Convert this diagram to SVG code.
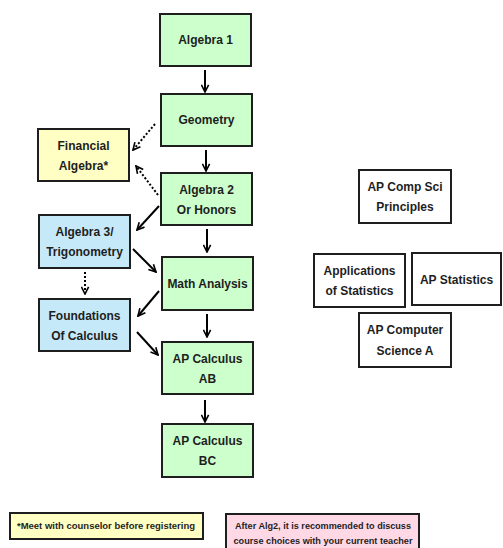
<svg xmlns="http://www.w3.org/2000/svg" width="503" height="548" viewBox="0 0 503 548">
<defs>
<style>
.box{stroke:#1e1e1e;stroke-width:2}
.g{fill:#ccffcc}.y{fill:#ffffc4}.b{fill:#c6e9fa}.w{fill:#ffffff}.p{fill:#ffd8e6}
text{font-family:"Liberation Sans",Arial,sans-serif;font-weight:bold;font-size:12px;fill:#1e1e1e;text-anchor:middle}
.sm{font-size:8.6px}
.c{stroke:#000;stroke-width:2;fill:none}
.d{stroke-dasharray:2 2}
</style>
<marker id="ah" viewBox="0 0 10 10" refX="9" refY="5" markerWidth="9" markerHeight="9" markerUnits="userSpaceOnUse" orient="auto">
<path d="M1,1 L9,5 L1,9" fill="none" stroke="#000" stroke-width="1.8"/>
</marker>
</defs>
<g id="connectors">
<line class="c" x1="205" y1="70" x2="205" y2="92" marker-end="url(#ah)"/>
<line class="c" x1="206" y1="150" x2="206" y2="171" marker-end="url(#ah)"/>
<line class="c d" x1="155" y1="124" x2="133" y2="150" marker-end="url(#ah)"/>
<line class="c d" x1="158" y1="195" x2="136" y2="166" marker-end="url(#ah)"/>
<line class="c" x1="159" y1="206" x2="137" y2="230" marker-end="url(#ah)"/>
<line class="c" x1="207" y1="229" x2="207" y2="252" marker-end="url(#ah)"/>
<line class="c" x1="133" y1="249" x2="156" y2="272" marker-end="url(#ah)"/>
<line class="c d" x1="85" y1="272" x2="85" y2="294" marker-end="url(#ah)"/>
<line class="c" x1="159" y1="291" x2="138" y2="316" marker-end="url(#ah)"/>
<line class="c" x1="137" y1="332" x2="158" y2="355" marker-end="url(#ah)"/>
<line class="c" x1="207" y1="314" x2="207" y2="337" marker-end="url(#ah)"/>
<line class="c" x1="205" y1="400" x2="205" y2="422" marker-end="url(#ah)"/>
</g>
<g id="algebra1"><rect class="box g" x="160" y="14" width="91" height="52"/><text x="205.5" y="44">Algebra 1</text></g>
<g id="geometry"><rect class="box g" x="161" y="94" width="91" height="52"/><text x="206.5" y="124">Geometry</text></g>
<g id="financial"><rect class="box y" x="38" y="129" width="91" height="52"/><text x="83.5" y="150">Financial</text><text x="83.5" y="170">Algebra*</text></g>
<g id="algebra2"><rect class="box g" x="161" y="173" width="91" height="52"/><text x="206.5" y="194">Algebra 2</text><text x="206.5" y="214">Or Honors</text></g>
<g id="algebra3"><rect class="box b" x="39" y="215" width="91" height="53"/><text x="84.5" y="236">Algebra 3/</text><text x="84.5" y="256">Trigonometry</text></g>
<g id="mathanalysis"><rect class="box g" x="162" y="257" width="91" height="53"/><text x="207.5" y="288">Math Analysis</text></g>
<g id="foundations"><rect class="box b" x="39" y="299" width="91" height="52"/><text x="84.5" y="320">Foundations</text><text x="84.5" y="340">Of Calculus</text></g>
<g id="apcalcab"><rect class="box g" x="162" y="342" width="91" height="52"/><text x="207.5" y="363">AP Calculus</text><text x="207.5" y="383">AB</text></g>
<g id="apcalcbc"><rect class="box g" x="162" y="424" width="91" height="53"/><text x="207.5" y="445">AP Calculus</text><text x="207.5" y="465">BC</text></g>
<g id="apcsp"><rect class="box w" x="359" y="170" width="92" height="53"/><text x="405" y="191">AP Comp Sci</text><text x="405" y="211">Principles</text></g>
<g id="appstats"><rect class="box w" x="314" y="254" width="91" height="53"/><text x="359.5" y="275">Applications</text><text x="359.5" y="295">of Statistics</text></g>
<g id="apstats"><rect class="box w" x="412" y="253" width="89" height="52"/><text x="456.5" y="284">AP Statistics</text></g>
<g id="apcsa"><rect class="box w" x="359" y="313" width="92" height="54"/><text x="405" y="334">AP Computer</text><text x="405" y="355">Science A</text></g>
<g id="note1"><rect class="box y" x="10" y="513" width="193" height="26"/><text class="sm" x="106" y="529" textLength="178" lengthAdjust="spacingAndGlyphs">*Meet with counselor before registering</text></g>
<g id="note2"><rect class="box p" x="226" y="514" width="193" height="40"/><text class="sm" x="323" y="529" textLength="176" lengthAdjust="spacingAndGlyphs">After Alg2, it is recommended to discuss</text><text class="sm" x="323" y="544" textLength="179" lengthAdjust="spacingAndGlyphs">course choices with your current teacher</text></g>
</svg>
